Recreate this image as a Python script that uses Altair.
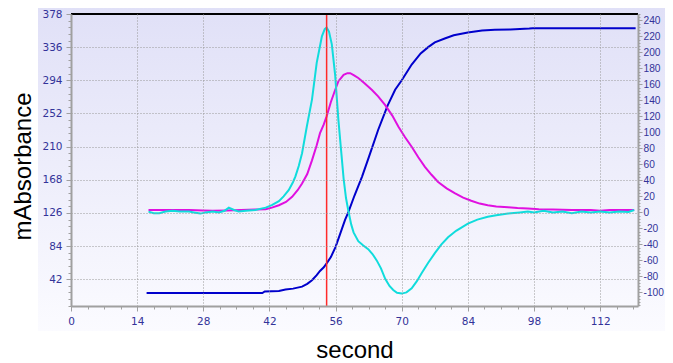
import altair as alt
import pandas as pd

# ---- data ----
blue_x = [16.0, 20, 25, 30, 35, 40.5, 41, 44, 45.4, 47, 48.9, 50, 51, 52, 52.7, 53.5, 54.1, 55, 56, 57,
          58, 58.7, 60, 61.6, 63, 65, 67, 68.6, 70, 72.1, 74, 75.6, 77, 79.1, 81, 84, 87, 89.7, 93, 97,
          97.7, 105, 112, 119.5]
blue_y = [24.5, 24.5, 24.5, 24.5, 24.5, 24.5, 26.5, 27, 28.8, 30, 32.5, 36, 40.6, 47, 52.4, 57, 62, 70, 83, 100,
          117, 127, 148, 172, 196, 231, 262, 282, 294, 314, 328, 336, 342, 347, 351, 354.5, 357, 358, 358.5, 359.5,
          360, 360, 360, 360]

cyan_x = [16.4, 17.5, 18.7, 20, 21.5, 23, 25, 26, 27.4, 28.5, 30, 31.3, 32.5, 33.4, 34.5, 35.5, 37, 39, 41.2,
          42.5, 44, 45, 46.1, 47, 47.5, 48.2, 48.9, 49.9, 51, 52, 53.1, 53.7, 54.1, 54.6, 55.2, 55.9, 56.6,
          57.2, 57.7, 58.2, 58.7, 59.3, 59.8, 60.8, 61.8, 62.9, 63.8, 64.7, 65.6, 66.5, 67.4, 68.2, 69, 70,
          71, 72.1, 73.2, 74.2, 75.6, 77, 78.4, 79.8, 81.5, 84, 86, 88.2, 90, 92.5, 95, 96.7, 98, 100, 102,
          104, 106, 108, 110, 112, 114, 116, 118, 119.2]
cyan_y = [1, -1, -1, 1, 2, 1, 1, 0, -1.5, 0, 1, 0, 2, 6, 3, 1, 2, 3, 6,
          9, 14, 20, 28, 38, 45, 58, 74, 107, 141, 187, 220, 229, 231, 226, 210, 172, 115,
          75, 42, 18, 2, -15, -25, -36, -41, -46, -52, -60, -70, -83, -92, -97, -100.5, -101.5,
          -100, -95, -86, -76, -63, -51, -40, -31, -23, -14, -9, -5.5, -3.5, -1.5, 0, 1, 0, 2, 0,
          1, -1, 1, 0, 1, 0, 1, 0.5, 3]

mag_x = [16.4, 20, 25, 28, 30, 33, 36, 39, 41.2, 42.5, 44, 45.5, 46.8, 48, 48.9, 50, 51, 52, 52.7, 53.5,
         54.1, 55, 55.9, 56.6, 57.7, 58.5, 59.1, 60, 60.8, 62, 63.7, 65, 66.5, 68, 69.3, 70.7, 72.1, 73.5,
         74.9, 76.3, 77.7, 79.5, 81.2, 83, 84.7, 86.5, 88.2, 90, 92.5, 94.5, 96.7, 99, 102, 106, 110, 112,
         114, 118, 119.2]
mag_y = [3, 3, 3, 2.5, 2, 2.5, 3, 3.5, 4, 6, 9, 13, 19.5, 28, 36, 48, 65, 84, 99, 110,
         120, 138, 153, 164, 172, 174, 174, 171, 168, 162, 153, 145, 134, 121, 107, 94, 82, 69,
         57, 47, 38, 30, 24, 18.5, 14.5, 11, 9, 7.5, 6.3, 5.5, 5, 4, 3.5, 3, 3, 2,
         3, 3, 3]

marker_x = [54.1]

W, H = 567, 292

blue_df = pd.DataFrame({"x": blue_x, "y": blue_y})
cyan_df = pd.DataFrame({"x": cyan_x, "y": cyan_y})
mag_df = pd.DataFrame({"x": mag_x, "y": mag_y})
marker_df = pd.DataFrame({"x": marker_x})
border_df = pd.DataFrame({"x": [0], "x2": [120]})

BASE = dict(labelColor="#333399", labelOverlap=False,
            domainColor="#a0a0a0", domainWidth=2, tickColor="#a0a0a0", zindex=1)
LABEL = dict(labelFont="DejaVu Sans", labelFontSize=10.5, **BASE)
TITLE = dict(titleFont="Liberation Sans", titleFontSize=24, titleFontWeight="normal", titleColor="black")

xt = "datum.value % 14 == 0"
xaxis = alt.Axis(values=[round(i * 3.5, 2) for i in range(0, 35)],
                 labelExpr=f"({xt}) ? '' + datum.value : ''",
                 tickSize={"condition": {"test": xt, "value": 5}, "value": 3},
                 grid=True, gridDash=[1, 2], gridColor="#999999",
                 gridOpacity={"condition": {"test": f"{xt} && datum.value > 0", "value": 1}, "value": 0},
                 labelPadding=5, labelFlush=False,
                 titleY=51, titleBaseline="alphabetic", **LABEL, **TITLE)

lt = "abs(datum.value/42 - round(datum.value/42)) < 0.001"
left_axis = alt.Axis(orient="left", values=[round(8.4 * k, 4) for k in range(1, 46)],
                     labelExpr=f"({lt}) ? '' + round(datum.value) : ''",
                     tickSize={"condition": {"test": lt, "value": 5}, "value": 3},
                     grid=True, gridDash=[1, 2], gridColor="#999999",
                     gridOpacity={"condition": {"test": f"{lt} && datum.value < 370", "value": 1}, "value": 0},
                     labelPadding=4,
                     titleX=-41, titleY=152, titleAngle=-90, titleBaseline="alphabetic", titleAlign="center",
                     **LABEL, **TITLE)

rt = "datum.value % 20 == 0"
right_axis = alt.Axis(orient="right", values=list(range(-116, 249, 4)),
                      labelExpr=f"({rt}) ? '' + datum.value : ''",
                      tickSize={"condition": {"test": rt, "value": 4}, "value": 2},
                      grid=False, labelPadding=1, title=None,
                      labelFont="Liberation Sans", labelFontSize=10.2, **BASE)

xscale = alt.Scale(domain=[0, 120], nice=False, zero=False)


def X():
    return alt.X("x:Q", scale=xscale, axis=xaxis, title="second")


grad = alt.LinearGradient(gradient="linear",
                          stops=[alt.GradientStop(offset=0, color="#e0e0f7"),
                                 alt.GradientStop(offset=1, color="#fbfbff")],
                          x1=0, x2=0, y1=0, y2=1)

bg = alt.Chart(pd.DataFrame({"a": [0]})).mark_rect(fill=grad).encode(
    x=alt.value(-33), x2=alt.value(W + 40), y=alt.value(-7), y2=alt.value(317))

blue = alt.Chart(blue_df).mark_line(color="#0000cc", strokeWidth=2).encode(
    x=X(),
    y=alt.Y("y:Q", scale=alt.Scale(domain=[8, 378], nice=False, zero=False), axis=left_axis,
            title="mAbsorbance"))

rscale = alt.Scale(domain=[-117, 248], nice=False, zero=False)
mag = alt.Chart(mag_df).mark_line(color="#e010e0", strokeWidth=2).encode(
    x=X(), y=alt.Y("y:Q", scale=rscale, axis=right_axis, title=None))
cyan = alt.Chart(cyan_df).mark_line(color="#10dcdc", strokeWidth=2).encode(
    x=X(), y=alt.Y("y:Q", scale=rscale, axis=right_axis, title=None))
right = alt.layer(mag, cyan)

marker = alt.Chart(marker_df).mark_rule(color="#ff2a2a", strokeWidth=1.5).encode(x=X())

top = alt.Chart(border_df).mark_rule(color="black", strokeWidth=2).encode(
    x=X(), x2="x2:Q", y=alt.value(0))

chart = alt.layer(bg, blue, right, marker, top).resolve_scale(y="independent").properties(
    width=W, height=H,
    autosize=alt.AutoSizeParams(type="none"),
    padding={"left": 63, "top": 6, "right": 27, "bottom": 57},
    background="white",
).configure_view(stroke=None)

chart.save("out.html", embed_options={"renderer": "svg", "actions": False})
